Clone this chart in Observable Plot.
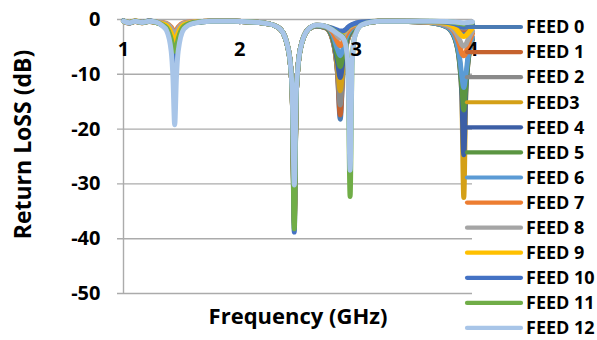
<!DOCTYPE html>
<html><head><meta charset="utf-8">
<script src="https://cdn.jsdelivr.net/npm/d3@7"></script>
<script src="https://cdn.jsdelivr.net/npm/@observablehq/plot@0.6"></script>
<style>
html,body{margin:0;padding:0;background:#fff;}
#chart{position:relative;width:597px;height:340px;font-family:"Open Sans",sans-serif;}
#chart svg{display:block;}
#legend{position:absolute;left:0;top:0;pointer-events:none;}
</style></head><body><div id="chart"></div>
<script>
// Frequency grid (GHz)
const freq = [1.00,1.05,1.10,1.16,1.22,1.28,1.33,1.37,1.41,1.425,1.44,1.455,1.47,1.52,1.60,1.75,1.95,2.10,2.25,2.35,2.42,2.45,2.468,2.485,2.52,2.59,2.66,2.74,2.80,2.84,2.863,2.885,2.91,2.93,2.948,2.965,2.99,3.05,3.20,3.45,3.65,3.78,3.85,3.89,3.908,3.925,3.942,3.96,4.00];

// Return loss (dB) per feed
const feed0 = [-0.25,-0.6,-0.3,-0.55,-0.3,-0.5, -0.8,-1.2,-2.7,-3.7,-4.3,-3.7,-2.7,-1.0,-0.5, -0.3,-0.3,-0.45,-0.8,-1.8,-5.8,-13.1,-34,-13.5,-5.4,-1.75, -1.2,-1.55,-3.9,-9.9,-18.2,-10.2,-5.3,-3.5,-2.55,-2.0,-1.5,-0.9, -0.3, -0.3,-0.4,-0.65,-1.2,-1.85,-2.15,-2.25,-2.15,-1.85,-1.2];
const feed1 = [-0.3,-0.65,-0.3,-0.6,-0.3,-0.55, -0.6,-0.9,-1.8,-2.45,-2.8,-2.45,-1.8,-0.75,-0.45, -0.3,-0.3,-0.45,-0.8,-1.8,-5.8,-13.1,-35,-13.5,-5.4,-1.75, -1.2,-1.55,-3.85,-9.8,-17.4,-10.0,-5.25,-3.5,-2.55,-2.0,-1.45,-0.9, -0.3, -0.3,-0.35,-0.55,-1.0,-1.55,-1.75,-1.85,-1.75,-1.55,-1.0];
const feed2 = [-0.25,-0.55,-0.35,-0.5,-0.35,-0.5, -0.7,-1.0,-2.1,-2.9,-3.3,-2.9,-2.1,-0.85,-0.45, -0.3,-0.3,-0.45,-0.8,-1.8,-5.8,-13.1,-33,-13.5,-5.4,-1.75, -1.2,-1.5,-3.8,-9.5,-15.6,-9.7,-5.2,-3.4,-2.5,-1.95,-1.45,-0.9, -0.3, -0.3,-0.35,-0.5,-0.85,-1.3,-1.5,-1.55,-1.5,-1.3,-0.85];
const feed3 = [-0.3,-0.6,-0.25,-0.55,-0.3,-0.45, -0.9,-1.45,-3.35,-4.6,-5.3,-4.6,-3.35,-1.2,-0.55, -0.3,-0.3,-0.45,-0.8,-1.8,-5.8,-13.1,-36,-13.5,-5.4,-1.75, -1.15,-1.5,-3.7,-8.75,-13.0,-8.95,-4.95,-3.3,-2.45,-1.9,-1.4,-0.85, -0.3, -0.35,-0.6,-1.4,-3.55,-8.2,-13.85,-32.5,-13.85,-8.2,-3.55];
const feed4 = [-0.25,-0.65,-0.3,-0.6,-0.25,-0.5, -1.0,-1.7,-4.3,-6.4,-7.8,-6.4,-4.3,-1.45,-0.6, -0.3,-0.3,-0.45,-0.8,-1.8,-5.8,-13.1,-37,-13.5,-5.4,-1.75, -1.15,-1.45,-3.5,-7.8,-10.6,-7.95,-4.65,-3.15,-2.35,-1.85,-1.4,-0.85, -0.3, -0.35,-0.6,-1.4,-3.55,-8.1,-13.55,-24.7,-13.55,-8.1,-3.55];
const feed5 = [-0.3,-0.55,-0.3,-0.55,-0.3,-0.55, -0.95,-1.55,-3.8,-5.35,-6.3,-5.35,-3.8,-1.3,-0.6, -0.3,-0.3,-0.45,-0.8,-1.8,-5.8,-13.1,-35.5,-13.5,-5.4,-1.75, -1.1,-1.4,-3.25,-6.75,-8.6,-6.85,-4.2,-2.9,-2.2,-1.75,-1.3,-0.8, -0.3, -0.35,-0.6,-1.35,-3.45,-7.7,-12.15,-16.5,-12.15,-7.7,-3.45];
const feed6 = [-0.25,-0.6,-0.3,-0.5,-0.3,-0.5, -0.85,-1.35,-3.0,-4.2,-4.8,-4.2,-3.0,-1.1,-0.55, -0.3,-0.3,-0.45,-0.8,-1.8,-5.8,-13.1,-33.5,-13.5,-5.4,-1.75, -1.1,-1.35,-2.85,-5.5,-6.6,-5.5,-3.6,-2.55,-1.95,-1.55,-1.2,-0.75, -0.3, -0.35,-0.6,-1.35,-3.25,-7.05,-10.3,-12.4,-10.3,-7.05,-3.25];
const feed7 = [-0.3,-0.6,-0.35,-0.55,-0.3,-0.5, -0.55,-0.7,-1.4,-1.85,-2.1,-1.85,-1.4,-0.6,-0.4, -0.3,-0.3,-0.45,-0.8,-1.8,-5.8,-13.1,-36.5,-13.5,-5.4,-1.75, -1.05,-1.3,-2.35,-4.15,-4.8,-4.15,-2.9,-2.15,-1.65,-1.35,-1.05,-0.7, -0.3, -0.35,-0.5,-1.1,-2.55,-4.85,-6.15,-6.6,-6.15,-4.85,-2.55];
const feed8 = [-0.25,-0.6,-0.3,-0.55,-0.35,-0.5, -0.6,-0.8,-1.65,-2.2,-2.5,-2.2,-1.65,-0.7,-0.4, -0.3,-0.3,-0.45,-0.8,-1.8,-5.8,-13.1,-34.5,-13.5,-5.4,-1.75, -1.05,-1.25,-1.9,-3.05,-3.4,-3.05,-2.2,-1.7,-1.35,-1.1,-0.9,-0.6, -0.3, -0.3,-0.5,-1.0,-2.15,-3.75,-4.6,-4.9,-4.6,-3.75,-2.15];
const feed9 = [-0.3,-0.55,-0.3,-0.6,-0.3,-0.55, -0.75,-1.1,-2.45,-3.3,-3.8,-3.3,-2.45,-0.95,-0.5, -0.3,-0.3,-0.45,-0.8,-1.8,-5.8,-13.1,-37.5,-13.5,-5.4,-1.75, -1.05,-1.25,-1.7,-2.3,-2.5,-2.4,-1.9,-1.5,-1.2,-1.0,-0.8,-0.55, -0.3, -0.3,-0.4,-0.75,-1.55,-2.55,-2.95,-3.1,-2.95,-2.55,-1.55];
const feed10 = [-0.25,-0.6,-0.3,-0.55,-0.3,-0.5, -1.0,-1.65,-4.1,-6.0,-7.3,-6.0,-4.1,-1.4,-0.6, -0.3,-0.3,-0.45,-0.8,-1.8,-5.8,-13.1,-38.8,-13.5,-5.4,-1.75, -1.05,-1.25,-1.6,-1.95,-2.1,-2.1,-1.8,-1.4,-1.1,-0.9,-0.7,-0.45, -0.3, -0.3,-0.35,-0.5,-0.8,-1.15,-1.3,-1.35,-1.3,-1.15,-0.8];
const feed11 = [-0.3,-0.6,-0.3,-0.55,-0.3,-0.5, -0.95,-1.5,-3.6,-5.0,-5.8,-5.0,-3.6,-1.25,-0.6, -0.3,-0.3,-0.45,-0.8,-1.8,-5.8,-13.1,-38.2,-13.5,-5.4,-1.75, -1.05,-1.25,-1.9,-2.5,-2.8,-3.15,-4.4,-8.8,-32.3,-7.9,-2.9,-0.95, -0.3, -0.3,-0.3,-0.4,-0.55,-0.75,-0.8,-0.85,-0.8,-0.75,-0.55];
const feed12 = [-0.3,-0.6,-0.3,-0.55,-0.3,-0.5, -1.1,-2.0,-5.8,-10.5,-19.2,-10.5,-5.8,-1.7,-0.7, -0.3,-0.3,-0.45,-0.8,-1.8,-5.8,-13.1,-30.2,-13.5,-5.4,-1.75, -1.0,-1.25,-2.0,-2.6,-2.9,-3.3,-4.6,-9.0,-27.5,-7.95,-2.95,-0.95, -0.3, -0.3,-0.3,-0.35,-0.45,-0.55,-0.6,-0.65,-0.6,-0.55,-0.45];

const feedNames = ["FEED 0","FEED 1","FEED 2","FEED3","FEED 4","FEED 5","FEED 6","FEED 7","FEED 8","FEED 9","FEED 10","FEED 11","FEED 12"];
const feedColors = ["#4B7BB4","#C5622E","#8A8A8A","#D4A017","#3C5FA6","#5B9541","#5B9BD5","#ED7D31","#A5A5A5","#FFC000","#4472C4","#70AD47","#A8C5E8"];
const yTicks = [0,-10,-20,-30,-40,-50];
const xTicks = [1,2,3,4];
const xTitle = "Frequency (GHz)";
const yTitle = "Return LoSS (dB)";

const series = [feed0,feed1,feed2,feed3,feed4,feed5,feed6,feed7,feed8,feed9,feed10,feed11,feed12];
const rows = series.flatMap((vals, i) => vals.map((v, j) => ({feed: feedNames[i], f: freq[j], db: v})));

const grid = "#ababab";
const font = '"Open Sans", sans-serif';

const chart = Plot.plot({
  width: 597, height: 340,
  marginLeft: 123, marginRight: 125, marginTop: 19, marginBottom: 47,
  x: {domain: [1, 4], axis: null},
  y: {domain: [-50, 0]},
  color: {domain: feedNames, range: feedColors},
  style: {fontFamily: font, background: "transparent", overflow: "visible", color: "#000"},
  marks: [
    Plot.ruleY(yTicks, {y: d => d, stroke: grid, strokeWidth: 1.4, insetLeft: -6}),
    Plot.ruleX(xTicks.slice(0, 1), {x: d => d, stroke: grid, strokeWidth: 1.4}),
    Plot.ruleX(xTicks.slice(1), {x: d => d, stroke: grid, strokeWidth: 1.4, insetBottom: 268}),
    Plot.line(rows, {x: "f", y: "db", z: "feed", stroke: "feed", strokeWidth: 5, curve: "monotone-x", strokeLinecap: "round", strokeLinejoin: "round"}),
    Plot.axisY(yTicks, {tickSize: 0, tickPadding: 23, fontSize: 20, fontWeight: 700, label: null, tickFormat: d => String(d), fill: "#000"}),
    Plot.text(xTicks, {x: d => d, frameAnchor: "top", lineAnchor: "middle", dy: 30, text: d => String(d), fontSize: 20, fontWeight: 700, fill: "#000"}),
    Plot.text([yTitle], {frameAnchor: "left", textAnchor: "middle", lineAnchor: "middle", dx: -100, dy: -12, rotate: -90, text: d => d, fontSize: 23, fontWeight: 700, fill: "#000"}),
    Plot.text([xTitle], {frameAnchor: "bottom", lineAnchor: "middle", dy: 23, text: d => d, fontSize: 22, fontWeight: 700, fill: "#000"})
  ]
});

const holder = document.getElementById("chart");
holder.appendChild(chart);

// Legend overlay (drawn above the plot, as in the reference)
const lg = d3.create("svg").attr("id", "legend").attr("width", 597).attr("height", 340);
const item = lg.selectAll("g").data(feedNames).join("g")
  .attr("transform", (d, i) => `translate(0,${27 + i * 25.08})`);
item.append("line").attr("x1", 467).attr("x2", 521).attr("y1", 0).attr("y2", 0)
  .attr("stroke", (d, i) => feedColors[i]).attr("stroke-width", 4.2).attr("stroke-linecap", "round");
item.append("text").attr("x", 526).attr("y", 0).attr("dy", "0.35em")
  .attr("font-family", font).attr("font-size", 18).attr("font-weight", 700).attr("fill", "#000")
  .text(d => d);
holder.appendChild(lg.node());
</script>
</body></html>
